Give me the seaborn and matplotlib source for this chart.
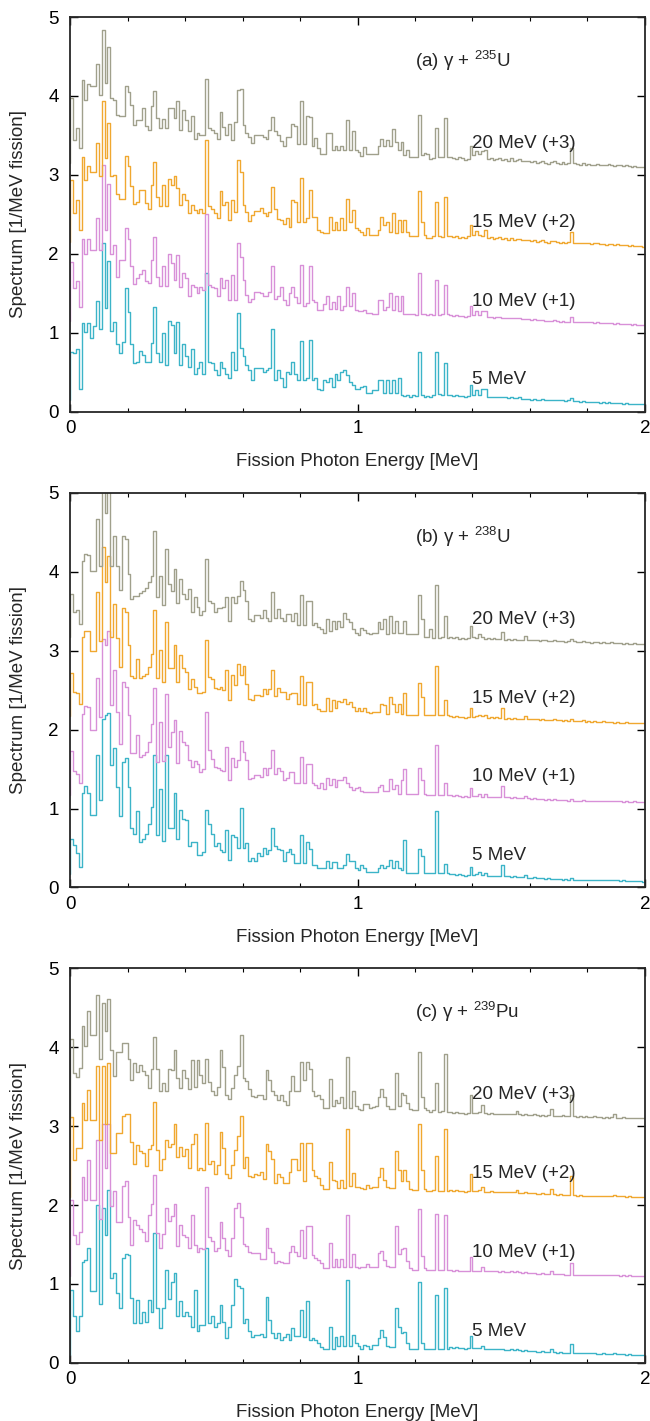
import numpy as np
import pandas as pd
import matplotlib
matplotlib.use("Agg")
import matplotlib.pyplot as plt
import seaborn as sns
from matplotlib.ticker import MultipleLocator

# photon energy bins: 0.01 MeV wide, 0 to 2 MeV
bin_edges = np.linspace(0.0, 2.0, 201)

incident_mev = [5, 10, 15, 20]
offsets = [0, 1, 2, 3]
series_labels = ["5 MeV", "10 MeV (+1)", "15 MeV (+2)", "20 MeV (+3)"]
line_colors = ["#3cb4c8", "#d890d8", "#f0a830", "#a0a08c"]
panel_titles = ["(a) γ + $^{\\mathrm{235}}$U", "(b) γ + $^{\\mathrm{238}}$U", "(c) γ + $^{\\mathrm{239}}$Pu"]
start_level = [0.15, 0.17, 0.10]

# ---- (a) gamma + U-235 ----
u235_5 = [
    0.76, 0.74, 0.79, 0.29, 1.12, 1.01, 1.12, 0.93, 1.08, 1.40,
    1.05, 2.14, 1.31, 1.91, 1.02, 1.14, 0.86, 0.74, 0.88, 1.57,
    1.26, 0.86, 0.61, 0.63, 0.77, 0.72, 0.63, 0.63, 0.87, 1.32,
    0.74, 0.63, 0.99, 0.59, 1.15, 1.10, 0.74, 1.13, 0.59, 0.86,
    0.70, 0.57, 0.79, 0.48, 0.55, 0.63, 0.48, 1.76, 0.63, 0.61,
    0.53, 0.46, 0.63, 0.55, 0.48, 0.42, 0.76, 0.53, 1.25, 0.80,
    0.70, 0.59, 0.53, 0.40, 0.55, 0.55, 0.55, 0.50, 0.53, 0.55,
    1.04, 0.40, 0.53, 0.42, 0.31, 0.50, 0.48, 0.63, 0.48, 0.40,
    0.90, 0.40, 0.42, 0.91, 0.40, 0.42, 0.29, 0.27, 0.40, 0.38,
    0.42, 0.31, 0.48, 0.40, 0.50, 0.53, 0.46, 0.37, 0.34, 0.29,
    0.28, 0.31, 0.32, 0.24, 0.24, 0.27, 0.27, 0.40, 0.40, 0.23,
    0.40, 0.24, 0.40, 0.24, 0.42, 0.21, 0.20, 0.21, 0.19, 0.21,
    0.20, 0.76, 0.21, 0.19, 0.20, 0.19, 0.21, 0.76, 0.22, 0.21,
    0.62, 0.21, 0.21, 0.20, 0.21, 0.20, 0.20, 0.19, 0.20, 0.34,
    0.21, 0.27, 0.21, 0.28, 0.28, 0.19, 0.19, 0.18, 0.19, 0.19,
    0.18, 0.18, 0.17, 0.18, 0.17, 0.17, 0.18, 0.16, 0.16, 0.16,
    0.15, 0.16, 0.15, 0.15, 0.16, 0.14, 0.14, 0.15, 0.15, 0.14,
    0.14, 0.14, 0.13, 0.14, 0.17, 0.13, 0.13, 0.12, 0.13, 0.12,
    0.12, 0.12, 0.12, 0.12, 0.11, 0.12, 0.11, 0.12, 0.11, 0.11,
    0.11, 0.11, 0.10, 0.11, 0.10, 0.10, 0.10, 0.10, 0.10, 0.10,
]
u235_10 = [
    0.89, 0.56, 0.65, 0.33, 1.19, 1.00, 1.19, 1.05, 1.05, 1.45,
    1.05, 2.12, 1.30, 1.89, 1.00, 1.11, 0.71, 0.92, 0.92, 1.32,
    1.19, 0.84, 0.62, 0.69, 0.74, 0.79, 0.65, 0.63, 0.92, 1.21,
    0.71, 0.59, 0.84, 0.59, 1.00, 0.88, 0.67, 0.98, 0.58, 0.75,
    0.69, 0.46, 0.60, 0.58, 0.50, 0.58, 0.54, 1.50, 0.60, 0.58,
    0.56, 0.46, 0.69, 0.56, 0.67, 0.41, 0.73, 0.41, 1.14, 0.96,
    0.67, 0.48, 0.39, 0.43, 0.52, 0.52, 0.50, 0.47, 0.46, 0.51,
    0.84, 0.43, 0.47, 0.58, 0.41, 0.35, 0.50, 0.58, 0.45, 0.37,
    0.86, 0.34, 0.38, 0.84, 0.41, 0.39, 0.29, 0.29, 0.36, 0.46,
    0.30, 0.39, 0.30, 0.46, 0.29, 0.34, 0.58, 0.34, 0.50, 0.29,
    0.27, 0.27, 0.29, 0.25, 0.25, 0.24, 0.24, 0.41, 0.41, 0.29,
    0.32, 0.50, 0.29, 0.46, 0.27, 0.46, 0.24, 0.24, 0.23, 0.24,
    0.22, 0.75, 0.24, 0.24, 0.22, 0.23, 0.22, 0.67, 0.22, 0.23,
    0.61, 0.23, 0.22, 0.21, 0.22, 0.21, 0.21, 0.20, 0.21, 0.34,
    0.22, 0.27, 0.22, 0.27, 0.27, 0.20, 0.20, 0.19, 0.20, 0.20,
    0.19, 0.19, 0.18, 0.19, 0.18, 0.18, 0.18, 0.17, 0.17, 0.17,
    0.16, 0.17, 0.16, 0.16, 0.16, 0.15, 0.15, 0.15, 0.16, 0.15,
    0.14, 0.15, 0.14, 0.14, 0.20, 0.14, 0.13, 0.13, 0.14, 0.13,
    0.13, 0.13, 0.12, 0.13, 0.12, 0.12, 0.12, 0.12, 0.12, 0.11,
    0.12, 0.11, 0.11, 0.11, 0.11, 0.10, 0.11, 0.10, 0.10, 0.10,
]
u235_15 = [
    0.93, 0.52, 0.68, 0.30, 1.23, 0.94, 1.11, 1.04, 1.04, 1.40,
    0.98, 1.94, 1.21, 1.66, 0.98, 1.00, 0.76, 0.70, 0.70, 1.24,
    1.11, 0.86, 0.63, 0.66, 0.81, 0.81, 0.64, 0.57, 0.87, 1.16,
    0.72, 0.60, 0.87, 0.60, 0.95, 0.87, 0.98, 0.83, 0.62, 0.76,
    0.68, 0.51, 0.62, 0.55, 0.51, 0.57, 0.51, 1.44, 0.60, 0.57,
    0.51, 0.45, 0.79, 0.62, 0.66, 0.43, 0.68, 0.53, 1.19, 1.03,
    0.62, 0.53, 0.41, 0.49, 0.54, 0.54, 0.58, 0.52, 0.48, 0.53,
    0.84, 0.57, 0.44, 0.43, 0.38, 0.45, 0.34, 0.68, 0.65, 0.40,
    0.96, 0.40, 0.45, 0.81, 0.46, 0.47, 0.30, 0.28, 0.26, 0.26,
    0.47, 0.30, 0.40, 0.30, 0.45, 0.30, 0.69, 0.40, 0.55, 0.32,
    0.30, 0.28, 0.24, 0.32, 0.24, 0.24, 0.24, 0.30, 0.46, 0.36,
    0.40, 0.28, 0.51, 0.26, 0.43, 0.28, 0.43, 0.27, 0.22, 0.22,
    0.22, 0.80, 0.40, 0.24, 0.20, 0.20, 0.22, 0.66, 0.22, 0.21,
    0.72, 0.22, 0.23, 0.21, 0.22, 0.20, 0.21, 0.20, 0.22, 0.36,
    0.24, 0.29, 0.24, 0.22, 0.30, 0.20, 0.21, 0.19, 0.20, 0.21,
    0.19, 0.20, 0.18, 0.20, 0.18, 0.19, 0.19, 0.17, 0.18, 0.17,
    0.16, 0.17, 0.15, 0.16, 0.17, 0.15, 0.14, 0.16, 0.16, 0.15,
    0.14, 0.15, 0.14, 0.15, 0.28, 0.14, 0.14, 0.13, 0.14, 0.13,
    0.13, 0.12, 0.13, 0.13, 0.12, 0.12, 0.11, 0.12, 0.12, 0.11,
    0.12, 0.11, 0.11, 0.11, 0.10, 0.11, 0.10, 0.10, 0.10, 0.09,
]
u235_20 = [
    0.97, 0.44, 0.60, 0.34, 1.20, 0.95, 1.15, 1.13, 1.13, 1.41,
    1.01, 1.84, 1.17, 1.62, 0.97, 0.95, 0.76, 0.74, 0.74, 1.12,
    1.05, 0.88, 0.63, 0.70, 0.70, 0.85, 0.62, 0.57, 0.87, 1.06,
    0.72, 0.59, 0.71, 0.59, 0.85, 0.85, 0.72, 0.93, 0.57, 0.82,
    0.69, 0.55, 0.74, 0.46, 0.53, 0.50, 0.50, 1.21, 0.59, 0.57,
    0.53, 0.45, 0.80, 0.61, 0.50, 0.65, 0.44, 0.67, 1.07, 1.09,
    0.63, 0.53, 0.48, 0.40, 0.50, 0.51, 0.51, 0.48, 0.46, 0.57,
    0.73, 0.56, 0.51, 0.43, 0.37, 0.48, 0.48, 0.64, 0.62, 0.39,
    0.93, 0.39, 0.74, 0.73, 0.36, 0.47, 0.34, 0.27, 0.26, 0.53,
    0.53, 0.31, 0.37, 0.31, 0.37, 0.31, 0.70, 0.31, 0.55, 0.31,
    0.29, 0.24, 0.35, 0.26, 0.26, 0.26, 0.26, 0.37, 0.45, 0.36,
    0.44, 0.36, 0.58, 0.41, 0.31, 0.42, 0.25, 0.32, 0.23, 0.23,
    0.23, 0.76, 0.25, 0.28, 0.26, 0.20, 0.21, 0.59, 0.22, 0.23,
    0.72, 0.23, 0.22, 0.21, 0.20, 0.22, 0.21, 0.19, 0.20, 0.36,
    0.25, 0.30, 0.27, 0.30, 0.31, 0.20, 0.21, 0.19, 0.20, 0.21,
    0.19, 0.20, 0.18, 0.21, 0.18, 0.19, 0.20, 0.17, 0.18, 0.17,
    0.16, 0.17, 0.15, 0.16, 0.17, 0.15, 0.14, 0.16, 0.17, 0.15,
    0.14, 0.16, 0.14, 0.15, 0.34, 0.15, 0.14, 0.13, 0.15, 0.13,
    0.14, 0.12, 0.13, 0.14, 0.12, 0.13, 0.12, 0.14, 0.12, 0.11,
    0.13, 0.12, 0.11, 0.12, 0.11, 0.10, 0.11, 0.10, 0.10, 0.10,
]

# ---- (b) gamma + U-238 ----
u238_5 = [
    0.62, 0.54, 0.43, 0.26, 1.20, 1.29, 1.20, 0.92, 0.92, 1.68,
    1.11, 2.14, 2.18, 2.21, 1.55, 1.77, 1.27, 0.90, 1.59, 1.64,
    1.27, 0.75, 0.68, 0.97, 0.58, 0.62, 0.68, 0.81, 1.02, 1.68,
    0.66, 1.25, 0.59, 1.68, 0.75, 0.75, 1.20, 0.62, 0.98, 0.87,
    0.85, 0.52, 0.58, 0.58, 0.41, 0.41, 0.45, 0.98, 0.81, 0.68,
    0.52, 0.56, 0.47, 0.45, 0.73, 0.35, 0.66, 0.64, 0.50, 1.01,
    0.50, 0.56, 0.33, 0.37, 0.33, 0.43, 0.40, 0.50, 0.42, 0.47,
    0.75, 0.52, 0.49, 0.47, 0.33, 0.45, 0.49, 0.42, 0.31, 0.31,
    0.67, 0.31, 0.58, 0.49, 0.28, 0.28, 0.24, 0.25, 0.25, 0.33,
    0.24, 0.32, 0.32, 0.25, 0.25, 0.28, 0.42, 0.33, 0.33, 0.24,
    0.22, 0.28, 0.24, 0.20, 0.20, 0.20, 0.20, 0.25, 0.28, 0.24,
    0.27, 0.35, 0.24, 0.34, 0.24, 0.22, 0.60, 0.18, 0.18, 0.18,
    0.18, 0.49, 0.40, 0.18, 0.18, 0.18, 0.18, 0.97, 0.18, 0.18,
    0.30, 0.18, 0.17, 0.17, 0.16, 0.17, 0.16, 0.15, 0.16, 0.26,
    0.16, 0.17, 0.19, 0.16, 0.18, 0.15, 0.15, 0.15, 0.14, 0.14,
    0.29, 0.14, 0.14, 0.13, 0.14, 0.13, 0.13, 0.13, 0.16, 0.12,
    0.12, 0.13, 0.12, 0.12, 0.12, 0.11, 0.12, 0.11, 0.11, 0.11,
    0.11, 0.10, 0.11, 0.10, 0.12, 0.10, 0.10, 0.10, 0.10, 0.10,
    0.10, 0.09, 0.10, 0.09, 0.09, 0.09, 0.09, 0.09, 0.09, 0.09,
    0.09, 0.08, 0.09, 0.08, 0.08, 0.08, 0.08, 0.08, 0.08, 0.07,
]
u238_10 = [
    0.73, 0.47, 0.44, 0.32, 1.20, 1.30, 1.29, 0.99, 0.99, 1.66,
    1.16, 2.15, 2.07, 2.25, 1.31, 1.75, 1.22, 0.82, 1.60, 1.54,
    1.18, 0.70, 0.70, 0.93, 0.65, 0.68, 0.72, 0.84, 1.07, 1.53,
    0.59, 1.10, 0.60, 1.45, 0.78, 0.97, 1.12, 0.58, 0.98, 0.84,
    0.80, 0.61, 0.52, 0.60, 0.56, 0.46, 0.50, 1.22, 0.74, 0.63,
    0.53, 0.51, 0.49, 0.47, 0.78, 0.36, 0.64, 0.52, 0.62, 0.85,
    0.72, 0.61, 0.37, 0.39, 0.42, 0.42, 0.40, 0.51, 0.42, 0.51,
    0.74, 0.44, 0.51, 0.47, 0.36, 0.39, 0.46, 0.46, 0.32, 0.32,
    0.65, 0.32, 0.56, 0.56, 0.32, 0.30, 0.26, 0.32, 0.25, 0.39,
    0.30, 0.37, 0.27, 0.36, 0.36, 0.40, 0.32, 0.27, 0.23, 0.26,
    0.27, 0.22, 0.21, 0.21, 0.21, 0.21, 0.21, 0.27, 0.30, 0.22,
    0.22, 0.38, 0.25, 0.30, 0.19, 0.36, 0.50, 0.19, 0.18, 0.18,
    0.18, 0.51, 0.36, 0.18, 0.17, 0.17, 0.17, 0.80, 0.17, 0.17,
    0.32, 0.17, 0.17, 0.16, 0.17, 0.16, 0.15, 0.16, 0.15, 0.26,
    0.16, 0.16, 0.19, 0.15, 0.18, 0.15, 0.15, 0.14, 0.15, 0.14,
    0.28, 0.14, 0.14, 0.13, 0.14, 0.13, 0.13, 0.13, 0.16, 0.13,
    0.12, 0.13, 0.12, 0.12, 0.12, 0.11, 0.12, 0.11, 0.12, 0.11,
    0.11, 0.11, 0.11, 0.10, 0.12, 0.10, 0.10, 0.10, 0.11, 0.10,
    0.10, 0.10, 0.10, 0.09, 0.10, 0.09, 0.10, 0.09, 0.09, 0.09,
    0.09, 0.09, 0.08, 0.09, 0.08, 0.08, 0.09, 0.08, 0.08, 0.08,
]
u238_15 = [
    0.72, 0.48, 0.47, 0.33, 1.17, 1.25, 1.25, 1.00, 1.00, 1.74,
    1.12, 2.32, 1.87, 2.20, 1.17, 1.59, 1.16, 0.79, 1.54, 1.49,
    1.07, 0.68, 0.66, 0.89, 0.65, 0.68, 0.71, 0.80, 0.96, 1.52,
    0.65, 1.01, 0.60, 1.36, 0.78, 0.78, 1.07, 0.60, 0.94, 0.78,
    0.73, 0.52, 0.64, 0.54, 0.46, 0.46, 0.48, 1.13, 0.67, 0.64,
    0.53, 0.51, 0.54, 0.50, 0.75, 0.38, 0.69, 0.57, 0.83, 0.69,
    0.81, 0.58, 0.39, 0.38, 0.44, 0.44, 0.43, 0.52, 0.45, 0.52,
    0.75, 0.43, 0.53, 0.48, 0.48, 0.39, 0.45, 0.46, 0.46, 0.32,
    0.68, 0.31, 0.61, 0.61, 0.31, 0.33, 0.26, 0.24, 0.23, 0.40,
    0.24, 0.37, 0.27, 0.36, 0.35, 0.39, 0.33, 0.35, 0.29, 0.24,
    0.27, 0.23, 0.27, 0.22, 0.21, 0.22, 0.22, 0.22, 0.33, 0.31,
    0.20, 0.41, 0.33, 0.22, 0.33, 0.20, 0.47, 0.19, 0.19, 0.19,
    0.19, 0.59, 0.41, 0.18, 0.18, 0.18, 0.18, 0.81, 0.18, 0.18,
    0.38, 0.18, 0.17, 0.16, 0.17, 0.16, 0.16, 0.15, 0.16, 0.27,
    0.16, 0.17, 0.19, 0.17, 0.19, 0.15, 0.16, 0.15, 0.16, 0.15,
    0.27, 0.14, 0.15, 0.14, 0.15, 0.14, 0.14, 0.13, 0.17, 0.13,
    0.13, 0.14, 0.13, 0.12, 0.13, 0.12, 0.12, 0.12, 0.13, 0.12,
    0.12, 0.11, 0.12, 0.11, 0.13, 0.11, 0.11, 0.11, 0.12, 0.10,
    0.11, 0.10, 0.11, 0.10, 0.10, 0.11, 0.10, 0.10, 0.10, 0.09,
    0.10, 0.09, 0.09, 0.10, 0.09, 0.09, 0.09, 0.08, 0.09, 0.08,
]
u238_20 = [
    0.72, 0.49, 0.51, 0.34, 1.14, 1.22, 1.21, 1.01, 1.01, 1.67,
    1.08, 2.15, 1.75, 2.20, 1.08, 1.46, 1.08, 0.77, 1.45, 1.41,
    0.97, 0.66, 0.70, 0.70, 0.73, 0.76, 0.80, 0.87, 0.95, 1.52,
    0.68, 0.95, 0.58, 1.29, 0.85, 0.76, 1.03, 0.61, 0.91, 0.72,
    0.65, 0.78, 0.49, 0.68, 0.55, 0.45, 0.50, 1.16, 0.63, 0.61,
    0.49, 0.54, 0.54, 0.55, 0.68, 0.38, 0.68, 0.61, 0.70, 0.88,
    0.77, 0.63, 0.40, 0.38, 0.45, 0.45, 0.42, 0.51, 0.42, 0.38,
    0.74, 0.42, 0.53, 0.42, 0.38, 0.47, 0.47, 0.38, 0.48, 0.32,
    0.71, 0.32, 0.63, 0.63, 0.32, 0.35, 0.30, 0.27, 0.23, 0.40,
    0.25, 0.38, 0.28, 0.38, 0.30, 0.48, 0.40, 0.36, 0.28, 0.23,
    0.20, 0.29, 0.26, 0.23, 0.21, 0.23, 0.22, 0.36, 0.27, 0.40,
    0.21, 0.44, 0.23, 0.38, 0.23, 0.23, 0.38, 0.21, 0.21, 0.21,
    0.21, 0.71, 0.40, 0.18, 0.18, 0.28, 0.16, 0.83, 0.16, 0.17,
    0.44, 0.16, 0.17, 0.16, 0.17, 0.15, 0.16, 0.15, 0.16, 0.31,
    0.17, 0.16, 0.21, 0.17, 0.15, 0.16, 0.15, 0.16, 0.15, 0.15,
    0.24, 0.14, 0.15, 0.14, 0.15, 0.14, 0.13, 0.14, 0.19, 0.14,
    0.13, 0.14, 0.13, 0.12, 0.13, 0.13, 0.12, 0.12, 0.13, 0.12,
    0.12, 0.12, 0.11, 0.12, 0.15, 0.12, 0.11, 0.11, 0.12, 0.11,
    0.11, 0.10, 0.11, 0.11, 0.10, 0.11, 0.10, 0.10, 0.11, 0.10,
    0.10, 0.10, 0.09, 0.10, 0.09, 0.09, 0.10, 0.09, 0.09, 0.09,
]

# ---- (c) gamma + Pu-239 ----
pu239_5 = [
    0.92, 0.59, 0.41, 0.59, 1.28, 1.30, 1.46, 0.91, 0.91, 2.00,
    0.75, 1.96, 1.62, 2.19, 1.07, 1.14, 0.88, 0.69, 1.33, 1.38,
    1.37, 0.82, 0.51, 0.80, 0.51, 0.64, 0.52, 0.80, 0.65, 1.65,
    0.69, 0.44, 0.69, 1.18, 0.81, 1.02, 1.14, 0.59, 0.78, 0.59,
    0.64, 0.59, 0.46, 0.92, 0.41, 0.48, 0.48, 1.45, 0.51, 0.59,
    0.46, 0.51, 0.73, 0.52, 0.32, 0.46, 0.73, 1.06, 0.97, 0.95,
    0.51, 0.56, 0.40, 0.33, 0.35, 0.35, 0.36, 0.33, 0.83, 0.54,
    0.38, 0.31, 0.38, 0.29, 0.33, 0.36, 0.29, 0.44, 0.34, 0.34,
    0.67, 0.33, 0.78, 0.29, 0.31, 0.29, 0.25, 0.20, 0.18, 0.18,
    0.46, 0.18, 0.33, 0.21, 0.34, 0.21, 1.05, 0.21, 0.35, 0.25,
    0.21, 0.18, 0.23, 0.21, 0.18, 0.23, 0.23, 0.31, 0.42, 0.33,
    0.21, 0.20, 0.20, 0.70, 0.46, 0.38, 0.39, 0.25, 0.18, 0.17,
    0.17, 1.02, 0.25, 0.18, 0.17, 0.17, 0.17, 0.86, 0.17, 0.17,
    0.95, 0.17, 0.20, 0.19, 0.20, 0.19, 0.19, 0.18, 0.19, 0.34,
    0.19, 0.19, 0.19, 0.21, 0.18, 0.18, 0.18, 0.17, 0.17, 0.17,
    0.18, 0.16, 0.16, 0.17, 0.16, 0.17, 0.16, 0.15, 0.16, 0.15,
    0.15, 0.15, 0.14, 0.14, 0.15, 0.14, 0.14, 0.17, 0.14, 0.13,
    0.14, 0.13, 0.13, 0.13, 0.24, 0.13, 0.12, 0.13, 0.12, 0.12,
    0.12, 0.12, 0.12, 0.11, 0.11, 0.12, 0.11, 0.11, 0.11, 0.12,
    0.11, 0.11, 0.11, 0.10, 0.11, 0.10, 0.10, 0.10, 0.10, 0.10,
]
pu239_10 = [
    1.06, 0.62, 0.51, 0.66, 1.35, 1.07, 1.57, 1.07, 1.07, 1.82,
    0.82, 2.03, 1.47, 2.03, 0.99, 1.18, 0.79, 0.79, 1.24, 1.31,
    0.85, 0.49, 0.81, 0.75, 0.70, 0.66, 0.54, 0.87, 1.01, 1.38,
    0.64, 0.46, 0.63, 0.96, 0.80, 0.86, 1.02, 0.48, 0.75, 0.62,
    0.60, 0.46, 0.87, 0.49, 0.41, 0.46, 0.44, 1.23, 0.60, 0.54,
    0.42, 0.46, 0.79, 0.58, 0.43, 0.35, 0.58, 0.96, 1.03, 0.85,
    0.51, 0.48, 0.40, 0.39, 0.39, 0.39, 0.32, 0.32, 0.71, 0.45,
    0.40, 0.26, 0.29, 0.28, 0.26, 0.27, 0.40, 0.48, 0.40, 0.35,
    0.69, 0.33, 0.73, 0.73, 0.37, 0.33, 0.30, 0.26, 0.20, 0.20,
    0.52, 0.21, 0.32, 0.22, 0.32, 0.21, 0.87, 0.21, 0.38, 0.22,
    0.20, 0.21, 0.21, 0.25, 0.22, 0.21, 0.22, 0.39, 0.42, 0.31,
    0.23, 0.21, 0.21, 0.73, 0.38, 0.44, 0.46, 0.29, 0.20, 0.18,
    0.18, 0.95, 0.35, 0.20, 0.18, 0.18, 0.18, 0.89, 0.18, 0.18,
    0.87, 0.18, 0.18, 0.17, 0.18, 0.17, 0.17, 0.16, 0.17, 0.34,
    0.17, 0.17, 0.17, 0.21, 0.16, 0.16, 0.17, 0.16, 0.16, 0.15,
    0.16, 0.15, 0.15, 0.16, 0.15, 0.17, 0.15, 0.14, 0.15, 0.14,
    0.14, 0.14, 0.13, 0.13, 0.14, 0.13, 0.13, 0.17, 0.13, 0.13,
    0.13, 0.13, 0.12, 0.12, 0.27, 0.12, 0.12, 0.12, 0.12, 0.11,
    0.12, 0.11, 0.12, 0.11, 0.11, 0.11, 0.11, 0.11, 0.11, 0.12,
    0.11, 0.10, 0.11, 0.10, 0.11, 0.10, 0.10, 0.10, 0.10, 0.10,
]
pu239_15 = [
    1.12, 0.57, 0.73, 0.72, 1.30, 1.08, 1.46, 1.08, 1.08, 1.76,
    0.82, 1.76, 1.03, 1.80, 0.66, 0.66, 0.91, 0.91, 1.13, 1.15,
    1.15, 0.80, 0.52, 0.76, 0.69, 0.66, 0.50, 0.71, 0.76, 1.31,
    0.70, 0.45, 0.58, 0.83, 0.74, 0.78, 1.03, 0.61, 0.74, 0.62,
    0.71, 0.47, 0.78, 0.90, 0.44, 0.47, 0.45, 1.04, 0.52, 0.56,
    0.40, 0.51, 0.93, 0.73, 0.40, 0.34, 0.51, 0.70, 0.87, 1.13,
    0.47, 0.61, 0.37, 0.35, 0.39, 0.38, 0.42, 0.33, 0.77, 0.68,
    0.58, 0.28, 0.40, 0.35, 0.28, 0.28, 0.42, 0.58, 0.59, 0.45,
    0.79, 0.31, 0.79, 0.79, 0.45, 0.37, 0.34, 0.26, 0.20, 0.20,
    0.55, 0.32, 0.30, 0.22, 0.32, 0.22, 0.96, 0.24, 0.41, 0.23,
    0.23, 0.22, 0.20, 0.25, 0.22, 0.23, 0.23, 0.36, 0.47, 0.32,
    0.23, 0.22, 0.22, 0.68, 0.45, 0.30, 0.44, 0.30, 0.20, 0.19,
    0.19, 1.03, 0.44, 0.20, 0.18, 0.18, 0.19, 0.62, 0.18, 0.18,
    0.96, 0.18, 0.19, 0.18, 0.19, 0.18, 0.18, 0.17, 0.18, 0.39,
    0.18, 0.18, 0.19, 0.23, 0.17, 0.17, 0.18, 0.16, 0.17, 0.16,
    0.17, 0.16, 0.16, 0.17, 0.16, 0.19, 0.15, 0.15, 0.16, 0.15,
    0.15, 0.15, 0.14, 0.14, 0.15, 0.14, 0.14, 0.20, 0.14, 0.13,
    0.14, 0.13, 0.13, 0.13, 0.37, 0.13, 0.12, 0.13, 0.12, 0.12,
    0.12, 0.12, 0.12, 0.12, 0.11, 0.12, 0.11, 0.11, 0.12, 0.13,
    0.11, 0.11, 0.11, 0.10, 0.11, 0.10, 0.10, 0.10, 0.10, 0.10,
]
pu239_20 = [
    1.11, 0.67, 0.62, 0.74, 1.27, 1.02, 1.46, 1.16, 1.16, 1.66,
    0.85, 1.56, 1.21, 1.61, 0.97, 0.64, 0.94, 0.94, 1.05, 1.05,
    0.85, 0.59, 0.80, 0.69, 0.78, 0.70, 0.65, 0.49, 0.73, 1.13,
    0.72, 0.44, 0.55, 0.45, 0.73, 0.71, 0.97, 0.61, 0.48, 0.71,
    0.61, 0.47, 0.84, 0.50, 0.84, 0.65, 0.55, 0.85, 0.56, 0.44,
    0.40, 0.50, 0.97, 0.75, 0.40, 0.35, 0.48, 0.65, 0.76, 1.15,
    0.61, 0.57, 0.47, 0.38, 0.37, 0.39, 0.40, 0.34, 0.71, 0.59,
    0.44, 0.40, 0.33, 0.40, 0.32, 0.27, 0.44, 0.64, 0.44, 0.44,
    0.82, 0.59, 0.82, 0.73, 0.44, 0.38, 0.40, 0.35, 0.23, 0.23,
    0.60, 0.25, 0.33, 0.29, 0.37, 0.23, 0.88, 0.23, 0.44, 0.25,
    0.22, 0.21, 0.28, 0.28, 0.23, 0.24, 0.25, 0.37, 0.47, 0.37,
    0.25, 0.22, 0.22, 0.68, 0.25, 0.42, 0.40, 0.30, 0.22, 0.20,
    0.20, 0.94, 0.37, 0.23, 0.20, 0.18, 0.20, 0.55, 0.18, 0.19,
    0.92, 0.18, 0.18, 0.17, 0.18, 0.17, 0.17, 0.16, 0.17, 0.40,
    0.17, 0.17, 0.18, 0.27, 0.17, 0.16, 0.17, 0.16, 0.16, 0.15,
    0.16, 0.15, 0.15, 0.16, 0.15, 0.19, 0.15, 0.14, 0.15, 0.14,
    0.14, 0.15, 0.14, 0.13, 0.14, 0.13, 0.14, 0.22, 0.13, 0.13,
    0.13, 0.14, 0.13, 0.13, 0.40, 0.13, 0.12, 0.13, 0.12, 0.13,
    0.12, 0.12, 0.13, 0.12, 0.12, 0.11, 0.12, 0.11, 0.12, 0.15,
    0.11, 0.11, 0.12, 0.11, 0.11, 0.10, 0.11, 0.10, 0.10, 0.10,
]

panels = [
    [u235_5, u235_10, u235_15, u235_20],
    [u238_5, u238_10, u238_15, u238_20],
    [pu239_5, pu239_10, pu239_15, pu239_20],
]


def step_frame(spectra, start):
    frames = []
    for vals, off, lab in zip(spectra, offsets, series_labels):
        vals = np.asarray(vals)
        assert len(vals) == 200, (lab, len(vals))
        x = np.concatenate([[0.0], bin_edges[:-1], [bin_edges[-1]]])
        y = np.concatenate([[start], vals, [vals[-1]]]) + off
        frames.append(pd.DataFrame({"energy": x, "spectrum": y, "series": lab}))
    return pd.concat(frames, ignore_index=True)


sns.set_style("ticks")
plt.rcParams["font.family"] = ["Liberation Sans", "DejaVu Sans"]
plt.rcParams["mathtext.fontset"] = "custom"
plt.rcParams["mathtext.rm"] = "Liberation Sans"
plt.rcParams["axes.linewidth"] = 1.3

fs = 13.5
fig = plt.figure(figsize=(6.5, 14.21), dpi=100)
bottoms = [0.7104, 0.3755, 0.0409]

for k in range(3):
    ax = fig.add_axes([0.1077, bottoms[k], 0.8846, 0.2776])
    df = step_frame(panels[k], start_level[k])
    sns.lineplot(data=df, x="energy", y="spectrum", hue="series",
                 hue_order=series_labels, palette=line_colors,
                 estimator=None, sort=False, drawstyle="steps-post",
                 linewidth=1.0, legend=False, ax=ax)

    for off, lab in zip(offsets, series_labels):
        ax.text(1.4, off + 0.4, lab, fontsize=fs, va="center", ha="left")
    ax.text(1.2, 4.45, panel_titles[k], fontsize=fs, va="center", ha="left")

    ax.set_xlim(0, 2)
    ax.set_ylim(0, 5)
    ax.xaxis.set_major_locator(MultipleLocator(1))
    ax.xaxis.set_minor_locator(MultipleLocator(0.2))
    ax.yaxis.set_major_locator(MultipleLocator(1))
    ax.tick_params(which="both", direction="in", top=True, right=True,
                   colors="black", labelsize=fs)
    ax.tick_params(which="major", length=6, width=1.0)
    ax.tick_params(which="minor", length=3, width=0.8)
    ax.tick_params(axis="x", pad=6)
    ax.tick_params(axis="y", pad=8)
    ax.set_xlabel("Fission Photon Energy [MeV]", fontsize=fs)
    ax.set_ylabel("Spectrum [1/MeV fission]", fontsize=fs)
    ax.xaxis.set_label_coords(0.5, -0.105)
    ax.yaxis.set_label_coords(-0.075, 0.5)

fig.savefig("out.png", dpi=100)
